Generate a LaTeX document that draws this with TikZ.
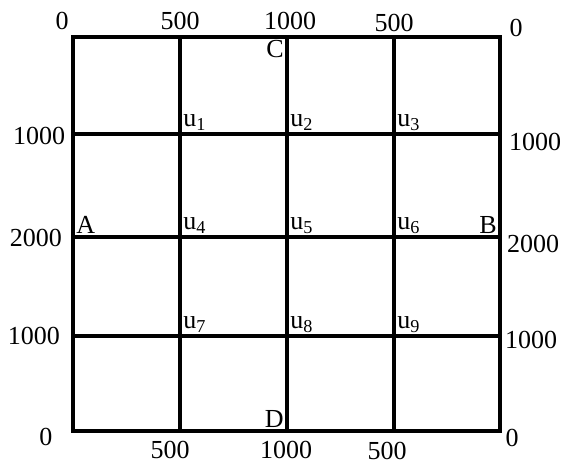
\documentclass[tikz,border=0pt]{standalone}
\usepackage{fontspec}
\setmainfont{Liberation Serif}
\usetikzlibrary{positioning}

\begin{document}
\begin{tikzpicture}[x=0.5pt, y=-0.5pt,
  road/.style={line width=1.6pt, line cap=rect},
  num/.style={font=\fontsize{13}{13}\selectfont, inner sep=0pt},
  crossing/.style={font=\fontsize{13}{13}\selectfont, inner sep=1.5pt}
]
\useasboundingbox (0,0) rectangle (563,464);

% frame corners
\coordinate (tl) at (73,37);
\coordinate (tr) at (500,37);
\coordinate (bl) at (73,431);
\coordinate (br) at (500,431);

% ends of the inner roads
\coordinate (t1) at (180,37);
\coordinate (t2) at (287,37);
\coordinate (t3) at (394,37);
\coordinate (b1) at (180,431);
\coordinate (b2) at (287,431);
\coordinate (b3) at (394,431);
\coordinate (l1) at (73,134);
\coordinate (l2) at (73,237);
\coordinate (l3) at (73,336);
\coordinate (r1) at (500,134);
\coordinate (r2) at (500,237);
\coordinate (r3) at (500,336);

% crossings
\coordinate (u1) at (t1 |- l1);
\coordinate (u2) at (t2 |- l1);
\coordinate (u3) at (t3 |- l1);
\coordinate (u4) at (t1 |- l2);
\coordinate (u5) at (t2 |- l2);
\coordinate (u6) at (t3 |- l2);
\coordinate (u7) at (t1 |- l3);
\coordinate (u8) at (t2 |- l3);
\coordinate (u9) at (t3 |- l3);

% roads
\draw[road] (tl) -- (tr) -- (br) -- (bl) -- cycle;
\draw[road] (t1) -- (b1);
\draw[road] (t2) -- (b2);
\draw[road] (t3) -- (b3);
\draw[road] (l1) -- (r1);
\draw[road] (l2) -- (r2);
\draw[road] (l3) -- (r3);

% crossing labels
\node[crossing, anchor=south west] (lu1) at (u1) {u\textsubscript{1}};
\node[crossing, anchor=south west] (lu2) at (u2) {u\textsubscript{2}};
\node[crossing, anchor=south west] (lu3) at (u3) {u\textsubscript{3}};
\node[crossing, anchor=south west] (lu4) at (u4) {u\textsubscript{4}};
\node[crossing, anchor=south west] (lu5) at (u5) {u\textsubscript{5}};
\node[crossing, anchor=south west] (lu6) at (u6) {u\textsubscript{6}};
\node[crossing, anchor=south west] (lu7) at (u7) {u\textsubscript{7}};
\node[crossing, anchor=south west] (lu8) at (u8) {u\textsubscript{8}};
\node[crossing, anchor=south west] (lu9) at (u9) {u\textsubscript{9}};

% end points
\node[crossing, anchor=north east] (C) at (t2) {C};
\node[crossing, anchor=south east] (D) at (b2) {D};
\node[crossing, anchor=south west] (A) at (l2) {A};
\node[crossing, anchor=south east] (B) at (r2) {B};

% distances along the top
\node[num] (top0a) at (62,21) {0};
\node[num] (top500a) at (180,21) {500};
\node[num] (top1000) at (290,21) {1000};
\node[num] (top500b) at (394,23) {500};
\node[num] (top0b) at (516,28) {0};

% distances along the bottom
\node[num] (bot500a) at (170,450) {500};
\node[num] (bot1000) at (286,450) {1000};
\node[num] (bot500b) at (387,451) {500};

% distances on the left
\node[num] (left1000a) at (39,136) {1000};
\node[num] (left2000) at (36,238) {2000};
\node[num] (left1000b) at (34,336) {1000};
\node[num] (left0) at (46,437) {0};

% distances on the right
\node[num] (right1000a) at (535,142) {1000};
\node[num] (right2000) at (533,244) {2000};
\node[num] (right1000b) at (531,340) {1000};
\node[num] (right0) at (512,438) {0};

\end{tikzpicture}
\end{document}
